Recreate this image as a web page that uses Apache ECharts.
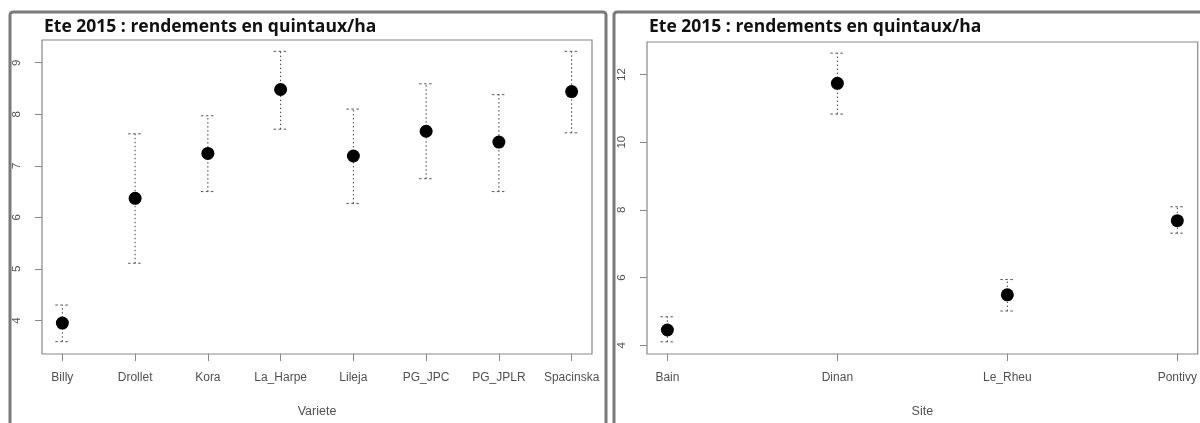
<!DOCTYPE html>
<html>
<head>
<meta charset="utf-8">
<script src="https://cdn.jsdelivr.net/npm/echarts@6/dist/echarts.min.js"></script>
<style>
html,body{margin:0;padding:0;background:#fff;}
#c{width:1200px;height:423px;}
</style>
</head>
<body>
<div id="c"></div>
<script>
// ---- data ----
const titleText = "Ete 2015 : rendements en quintaux/ha";
const varieteCategories = ["Billy","Drollet","Kora","La_Harpe","Lileja","PG_JPC","PG_JPLR","Spacinska"];
const varieteMean  = [3.95, 6.37, 7.24, 8.48, 7.19, 7.67, 7.46, 8.44];
const varieteLower = [3.59, 5.11, 6.50, 7.71, 6.27, 6.75, 6.50, 7.64];
const varieteUpper = [4.30, 7.62, 7.97, 9.22, 8.10, 8.59, 8.38, 9.22];
const varieteTicks = [4, 5, 6, 7, 8, 9];

const siteCategories = ["Bain","Dinan","Le_Rheu","Pontivy"];
const siteMean  = [4.45, 11.74, 5.49, 7.68];
const siteLower = [4.10, 10.83, 5.01, 7.31];
const siteUpper = [4.84, 12.63, 5.94, 8.09];
const siteTicks = [4, 6, 8, 10, 12];

const chart = echarts.init(document.getElementById('c'), null, {renderer:'canvas'});

const labelColor = '#505050';
const lineColor = '#888';

function xAxisFor(idx, cats, name, min, max) {
  const pos = cats.map((c,i)=>i+1);
  return {
    type:'value', gridIndex: idx, min:min, max:max,
    name: name, nameLocation:'middle', nameGap: 51,
    nameTextStyle:{color:labelColor, fontFamily:'Liberation Sans', fontSize:12.5},
    axisLine:{show:false},
    splitLine:{show:false},
    axisTick:{show:true, length:7, lineStyle:{color:lineColor}, customValues: pos},
    axisLabel:{show:true, margin:18, color:labelColor, fontFamily:'Liberation Sans', fontSize:12,
      customValues: pos,
      formatter: v => cats[Math.round(v)-1] || ''}
  };
}
function yAxisFor(idx, ticks, min, max) {
  return {
    type:'value', gridIndex: idx, min:min, max:max,
    axisLine:{show:false}, splitLine:{show:false},
    axisTick:{show:true, length:7, lineStyle:{color:lineColor}, customValues: ticks},
    axisLabel:{show:true, rotate:90, margin:19, color:labelColor, fontFamily:'Liberation Sans', fontSize:11.5,
      customValues: ticks}
  };
}

function errSeries(idx, cats, lower, upper) {
  return {
    type:'custom', xAxisIndex: idx, yAxisIndex: idx,
    data: cats.map((c,i)=>[i+1, lower[i], upper[i]]),
    encode:{x:0, y:[1,2]},
    renderItem: function(params, api) {
      const x = api.value(0);
      const lo = api.coord([x, api.value(1)]);
      const hi = api.coord([x, api.value(2)]);
      const hw = 7;
      const dotted = {stroke:'#444', lineWidth:1, lineDash:[1.5,2.5]};
      const dashed = {stroke:'#555', lineWidth:1, lineDash:[2.5,2.5]};
      return {type:'group', children:[
        {type:'line', shape:{x1:lo[0], y1:lo[1], x2:hi[0], y2:hi[1]}, style:dotted},
        {type:'line', shape:{x1:hi[0]-hw, y1:hi[1], x2:hi[0]+hw, y2:hi[1]}, style:dashed},
        {type:'line', shape:{x1:lo[0]-hw, y1:lo[1], x2:lo[0]+hw, y2:lo[1]}, style:dashed}
      ]};
    },
    silent:true, z:2
  };
}
function dotSeries(idx, cats, mean) {
  return {
    type:'scatter', xAxisIndex: idx, yAxisIndex: idx,
    data: cats.map((c,i)=>[i+1, mean[i]]),
    symbol:'circle', symbolSize:13,
    itemStyle:{color:'#000', opacity:1}, silent:true, z:3
  };
}

const titleStyle = {fontFamily:'Open Sans', fontWeight:'bold', fontSize:17.5, color:'#111'};

chart.setOption({
  animation:false,
  backgroundColor:'#fff',
  title:[
    {text:titleText, left:39, top:13, textStyle:titleStyle},
    {text:titleText, left:644, top:13, textStyle:titleStyle}
  ],
  graphic:[
    {type:'rect', shape:{x:10, y:12, width:596, height:440, r:3}, style:{fill:'none', stroke:'#7a7a7a', lineWidth:3}, silent:true, z:-1},
    {type:'rect', shape:{x:614, y:12, width:620, height:440, r:3}, style:{fill:'none', stroke:'#7a7a7a', lineWidth:3}, silent:true, z:-1}
  ],
  grid:[
    {left:42, top:40, width:550, height:320, show:true, borderColor:'#888', borderWidth:1.2, backgroundColor:'transparent'},
    {left:647, top:42, width:556, height:320, show:true, borderColor:'#888', borderWidth:1.2, backgroundColor:'transparent'}
  ],
  xAxis:[
    xAxisFor(0, varieteCategories, 'Variete', 0.72, 8.28),
    xAxisFor(1, siteCategories, 'Site', 0.88, 4.12)
  ],
  yAxis:[
    yAxisFor(0, varieteTicks, 3.35, 9.44),
    yAxisFor(1, siteTicks, 3.74, 12.96)
  ],
  series:[
    errSeries(0, varieteCategories, varieteLower, varieteUpper),
    dotSeries(0, varieteCategories, varieteMean),
    errSeries(1, siteCategories, siteLower, siteUpper),
    dotSeries(1, siteCategories, siteMean)
  ]
});
</script>
</body>
</html>
